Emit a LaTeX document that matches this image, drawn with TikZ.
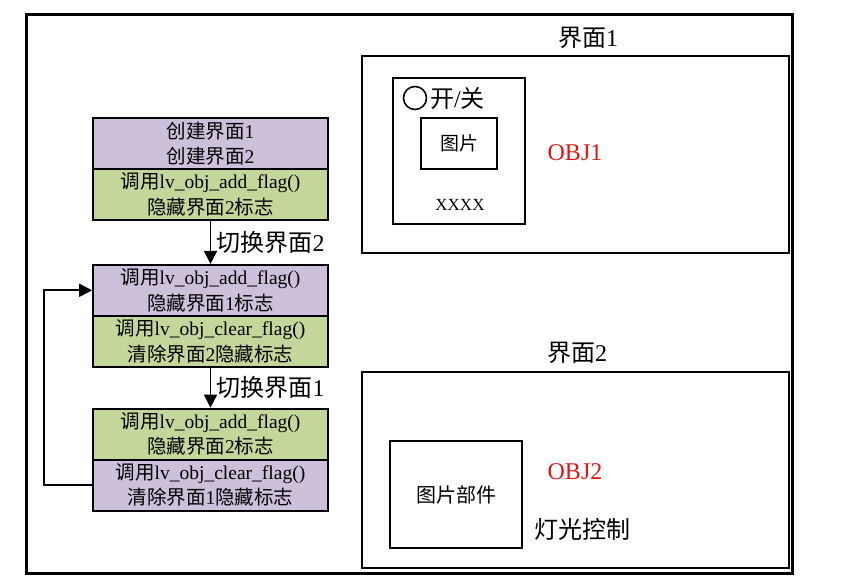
\documentclass[tikz,border=0pt]{standalone}
\usepackage{fontspec}
\setmainfont{Liberation Serif}
\newfontfamily\cjk{Noto Sans CJK SC}
\newcommand\zh[1]{{\cjk #1}}
\usetikzlibrary{positioning,arrows.meta}
\definecolor{boxpurple}{RGB}{204,192,218}
\definecolor{boxgreen}{RGB}{196,215,155}
\definecolor{objred}{RGB}{222,22,22}
\tikzset{
  part/.style={draw, line width=1.8pt, minimum width=235pt, minimum height=51pt,
    inner sep=0pt, align=center, font=\fontsize{19.5}{25.5}\selectfont},
  hide/.style={part, fill=boxpurple},
  show/.style={part, fill=boxgreen},
  frame/.style={draw, line width=1.6pt},
  switch/.style={font=\fontsize{24}{26}\selectfont, right=2pt},
  big/.style={font=\fontsize{24}{26}\selectfont},
}
\begin{document}
\begin{tikzpicture}[x=1pt, y=-1pt, >={Triangle[length=13pt,width=13pt]}]
    \useasboundingbox (0,0) rectangle (847,584);
    % outer frame
    \draw[line width=3pt] (26,14) rectangle (792,573);

    % left: flow of the three steps
    \node[hide] (s1a) at (210.5,143.5) {\zh{创建界面}1\\\zh{创建界面}2};
    \node[show, below=-1.8pt of s1a] (s1b) {\zh{调用}lv\_obj\_add\_flag()\\\zh{隐藏界面}2\zh{标志}};
    \node[hide, below=43pt of s1b] (s2a) {\zh{调用}lv\_obj\_add\_flag()\\\zh{隐藏界面}1\zh{标志}};
    \node[show, below=-1.8pt of s2a] (s2b) {\zh{调用}lv\_obj\_clear\_flag()\\\zh{清除界面}2\zh{隐藏标志}};
    \node[show, below=40pt of s2b] (s3a) {\zh{调用}lv\_obj\_add\_flag()\\\zh{隐藏界面}2\zh{标志}};
    \node[hide, below=-1.8pt of s3a] (s3b) {\zh{调用}lv\_obj\_clear\_flag()\\\zh{清除界面}1\zh{隐藏标志}};

    \draw[->, line width=1.8pt] (s1b) -- (s2a) node[switch, midway] {\zh{切换界面}2};
    \draw[->, line width=1.8pt] (s2b) -- (s3a) node[switch, midway] {\zh{切换界面}1};
    \draw[->, line width=1.8pt] (s3b.west) -- ++(-48,0) |- (s2a.west);

    % screen 1
    \node[big] (t1) at (588,38) {\zh{界面}1};
    \draw[frame] (362,56) rectangle (789,253);
    \draw[frame] (393,78) rectangle (525,224);
    \draw[line width=1.6pt] (415,98) circle (11.5);
    \node[big, anchor=west, inner sep=0pt] (sw) at (430,98) {\zh{开}/\zh{关}};
    \node[frame, minimum width=76pt, minimum height=51pt, font=\fontsize{19}{22}\selectfont] (pic) at (459,143.5) {\zh{图片}};
    \node[font=\fontsize{17}{20}\selectfont] (xx) at (460,205) {XXXX};
    \node[big, text=objred] (o1) at (575,153) {OBJ1};

    % screen 2
    \node[big] (t2) at (577,353) {\zh{界面}2};
    \draw[frame] (362,372) rectangle (789,568);
    \node[frame, minimum width=132pt, minimum height=107pt, font=\fontsize{20}{22}\selectfont] (part) at (456,494.5) {\zh{图片部件}};
    \node[big, text=objred] (o2) at (575,472) {OBJ2};
    \node[big] (lamp) at (582,529) {\zh{灯光控制}};
\end{tikzpicture}
\end{document}
